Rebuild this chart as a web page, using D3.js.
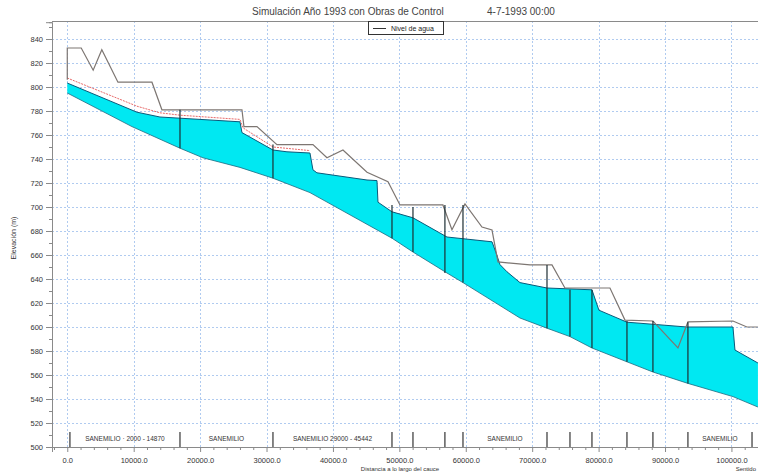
<!DOCTYPE html>
<html><head><meta charset="utf-8">
<script src="https://cdn.jsdelivr.net/npm/d3@7"></script>
<style>
html,body{margin:0;padding:0;background:#fff;}
svg{display:block;font-family:"Liberation Sans",Arial,sans-serif;}
</style></head>
<body>
<svg id="c" width="758" height="472"></svg>
<script>
// ---------- data ----------
const titleMain = "Simulación Año 1993 con Obras de Control";
const titleDate = "4-7-1993 00:00";
const legendLabel = "Nivel de agua";
const yTitle = "Elevación (m)";
const xTitle = "Distancia a lo largo del cauce";

const xTicks = [0,10000,20000,30000,40000,50000,60000,70000,80000,90000,100000];
const yTicks = [500,520,540,560,580,600,620,640,660,680,700,720,740,760,780,800,820,840];

// water surface (top of cyan)
const surfX = [0,10490,13950,16970,26000,26300,30970,33080,36540,36990,37590,45130,46630,46780,48890,52050,57170,63950,64550,65150,66210,68160,72230,79000,80050,84270,93300,100230,100530,103990];
const surfY = [803.3,779,775,774,771,762,747.5,746,745,731,728.5,722.5,722,704,696,691,675,671,662,652,646,637,632.5,631,614,604,600,600,580.8,570];

// river bed (bottom of cyan)
const bedX = [0,9740,16970,20430,26000,30970,36540,48890,52050,57170,59580,68160,72230,75690,79000,84270,88180,93450,100230,103990];
const bedY = [795,767,749,741,733,724,712,674,662.5,645,637,607.5,599,592,582.5,571,562.5,553,542,533.3];

// bank / crest line (gray)
const bankX = [0,0,2100,3900,5200,7630,12750,14250,26300,26600,28560,31570,36990,39100,41510,45130,48290,50090,56560,57920,59880,62440,63950,64850,69670,72980,74930,81710,83970,88180,91950,93450,100230,102330,103990];
const bankY = [806,832.5,832.5,814,831,804,804,781,781,767,767,752,752,741,747.5,729,721,701.7,701.7,681,702.5,683.3,680.8,654.2,651.7,651.7,632.5,632.5,605.8,605,582.5,604.2,605,600,600];

// red line (initial level)
const redX = [0,10490,13950,17000,26000,26450,30970,36540];
const redY = [807.5,784,778.5,776.5,773,766,750,747];

// control structures
const structX   = [16970,30970,48890,52050,56860,59580,72230,75690,79000,84270,88180,93450];
const structTop = [781,752,701.7,700,701.7,701.7,651.7,631,631,605,605,604];
const structBot = [749,724,674,662.5,645,637,599,592,582.5,571,562.5,553];

// bottom band marks and reach labels
const barX = [400,16970,30970,48890,52050,56860,59580,72230,75690,79000,84270,88180,93450,103100];
const reachLabels = ["SANEMILIO · 2000 - 14870","SANEMILIO","SANEMILIO 29000 - 45442","SANEMILIO","SANEMILIO"];
const reachStart = [400,16970,30970,59580,93450];
const reachEnd   = [16970,30970,48890,72230,103100];

// ---------- layout ----------
const L = 52, R = 758, T = 21, B = 447;
const svg = d3.select("#c");
const x = d3.scaleLinear().domain([-2300,104000]).range([L,R]);
const y = d3.scaleLinear().domain([500,854]).range([B,22.2]);

svg.append("defs").append("clipPath").attr("id","clip")
  .append("rect").attr("x",L).attr("y",T).attr("width",R-L).attr("height",B-T);

// grid
const grid = svg.append("g").attr("stroke","#b0cbf0").attr("stroke-width",1).attr("stroke-dasharray","2,2");
grid.selectAll("line.h").data(yTicks.filter(d=>d>500)).join("line")
  .attr("x1",L).attr("x2",R).attr("y1",d=>Math.round(y(d))+0.5).attr("y2",d=>Math.round(y(d))+0.5);
grid.selectAll("line.v").data(xTicks).join("line")
  .attr("y1",T).attr("y2",B).attr("x1",d=>Math.round(x(d))+0.5).attr("x2",d=>Math.round(x(d))+0.5);

const plot = svg.append("g").attr("clip-path","url(#clip)");
const line = d3.line().x(d=>x(d[0])).y(d=>y(d[1]));

const surf = surfX.map((v,i)=>[v,surfY[i]]);
const bed = bedX.map((v,i)=>[v,bedY[i]]);
plot.append("path").attr("d", line(surf.concat(bed.slice().reverse()))+"Z")
  .attr("fill","#00e8f2").attr("stroke","none");
plot.append("path").attr("d", line(surf)).attr("fill","none").attr("stroke","#0a5a7a").attr("stroke-width",1);
plot.append("path").attr("d", line(bed)).attr("fill","none").attr("stroke","#1c6a80").attr("stroke-width",0.8);

// red line
plot.append("path").attr("d", line(redX.map((v,i)=>[v,redY[i]])))
  .attr("fill","none").attr("stroke","#e86a6a").attr("stroke-width",1).attr("stroke-dasharray","2,1");

// bank line
plot.append("path").attr("d", line(bankX.map((v,i)=>[v,bankY[i]])))
  .attr("fill","none").attr("stroke","#7d7672").attr("stroke-width",1.2);

// structures
plot.selectAll("line.st").data(structX).join("line")
  .attr("x1",d=>x(d)).attr("x2",d=>x(d))
  .attr("y1",(d,i)=>y(structTop[i])).attr("y2",(d,i)=>y(structBot[i]))
  .attr("stroke","#1d2e33").attr("stroke-width",1.2);

// bottom band
plot.selectAll("line.bar").data(barX).join("line")
  .attr("x1",d=>x(d)).attr("x2",d=>x(d)).attr("y1",432).attr("y2",B)
  .attr("stroke","#222").attr("stroke-width",1.1);
plot.selectAll("text.rl").data(reachLabels).join("text")
  .attr("x",(d,i)=>(x(reachStart[i])+x(reachEnd[i]))/2).attr("y",441)
  .attr("text-anchor","middle").attr("font-size",6.5).attr("fill","#333").text(d=>d);

// axes
const axG = svg.append("g");
axG.append("g").attr("transform",`translate(${L},0)`)
  .call(d3.axisLeft(y).tickValues(yTicks).tickSize(6).tickPadding(3).tickFormat(d=>d));
axG.append("g").attr("transform",`translate(${L},0)`)
  .call(d3.axisLeft(y).tickValues(d3.range(510,854,20)).tickSize(3).tickFormat(""));
axG.append("g").attr("transform",`translate(0,${B})`)
  .call(d3.axisBottom(x).tickValues(xTicks).tickSize(5).tickPadding(6).tickFormat(d3.format(".1f")));
axG.append("g").attr("transform",`translate(0,${B})`)
  .call(d3.axisBottom(x).tickValues(d3.range(-2000,104001,2000).filter(d=>d%10000!==0)).tickSize(3).tickFormat(""));
axG.selectAll(".domain").attr("stroke","#8a8a8a");
axG.selectAll(".tick line").attr("stroke","#8a8a8a");
axG.selectAll(".tick text").attr("font-size",7.5).attr("fill","#333").attr("font-family","Liberation Sans, Arial, sans-serif");
// top border
svg.append("line").attr("x1",L).attr("x2",R).attr("y1",T+0.5).attr("y2",T+0.5).attr("stroke","#8a8a8a");

// titles
svg.append("text").attr("x",252).attr("y",15).attr("font-size",10).attr("fill","#444").text(titleMain);
svg.append("text").attr("x",487).attr("y",15).attr("font-size",10).attr("fill","#444").text(titleDate);
svg.append("text").attr("transform","translate(16,238) rotate(-90)").attr("text-anchor","middle")
  .attr("font-size",7).attr("fill","#333").text(yTitle);
svg.append("text").attr("x",400).attr("y",471).attr("text-anchor","middle").attr("font-size",6).attr("fill","#333").text(xTitle);
svg.append("text").attr("x",756).attr("y",471).attr("text-anchor","end").attr("font-size",6).attr("fill","#333").text("Sentido");

// legend
const lg = svg.append("g");
lg.append("rect").attr("x",368.5).attr("y",21.5).attr("width",75).attr("height",13).attr("fill","#fff").attr("stroke","#333");
lg.append("line").attr("x1",373).attr("x2",386).attr("y1",28.5).attr("y2",28.5).attr("stroke","#333").attr("stroke-width",1);
lg.append("text").attr("x",391).attr("y",31).attr("font-size",7).attr("fill","#222").text(legendLabel);
</script>
</body></html>
